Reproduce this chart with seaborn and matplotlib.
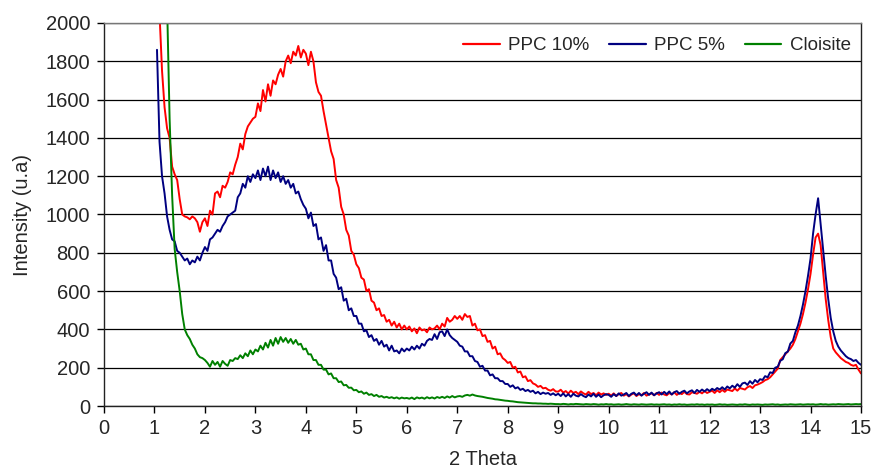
import numpy as np
import pandas as pd
import matplotlib
matplotlib.use("Agg")
import matplotlib.pyplot as plt
import seaborn as sns

nan = float("nan")

# 2 Theta sampling grid (1.00 .. 15.00, step 0.05)
two_theta = np.round(np.arange(1.0, 15.0001, 0.05), 2)

ppc10 = [
    nan, nan, 2050, 1750, 1560, 1450, 1400, 1250, 1210, 1180, 1080, 1000, 990, 985, 975, 990, 980, 960, 910, 960,
    980, 940, 1020, 1000, 1110, 1120, 1090, 1150, 1140, 1170, 1220, 1210, 1260, 1300, 1370, 1340, 1420, 1460, 1480, 1500,
    1510, 1580, 1540, 1650, 1590, 1680, 1620, 1700, 1680, 1730, 1760, 1720, 1800, 1830, 1790, 1850, 1830, 1880, 1820, 1860,
    1840, 1780, 1850, 1800, 1690, 1640, 1620, 1540, 1470, 1400, 1330, 1290, 1180, 1140, 1040, 1000, 920, 890, 810, 790,
    740, 720, 670, 660, 600, 610, 550, 540, 500, 510, 470, 475, 440, 450, 420, 440, 410, 430, 400, 420,
    400, 415, 390, 405, 380, 410, 395, 400, 385, 410, 400, 405, 420, 400, 430, 415, 460, 440, 450, 470,
    455, 470, 450, 480, 465, 470, 420, 430, 395, 400, 365, 370, 335, 340, 300, 310, 270, 275, 250, 240,
    225, 230, 200, 205, 175, 180, 150, 155, 130, 135, 118, 112, 100, 105, 92, 95, 85, 80, 88, 76,
    75, 85, 70, 78, 65, 80, 68, 74, 62, 76, 66, 60, 74, 62, 68, 56, 70, 60, 66, 58,
    64, 54, 66, 52, 62, 68, 54, 62, 50, 60, 66, 52, 62, 56, 68, 54, 62, 66, 56, 68,
    58, 70, 60, 56, 68, 60, 72, 58, 68, 62, 74, 62, 60, 72, 68, 64, 74, 66, 78, 68,
    74, 80, 68, 82, 72, 84, 74, 86, 82, 78, 92, 80, 94, 90, 86, 98, 104, 94, 108, 112,
    118, 125, 135, 140, 150, 165, 180, 195, 240, 255, 270, 285, 300, 320, 350, 390, 430, 480, 540, 610,
    690, 790, 880, 900, 840, 700, 560, 450, 360, 300, 280, 265, 250, 240, 230, 225, 215, 210, 215, 190,
    170,
]

ppc5 = [
    nan, 1860, 1380, 1200, 1110, 990, 920, 870, 860, 810, 800, 780, 760, 770, 740, 760, 750, 780, 760, 800,
    830, 810, 870, 880, 900, 920, 910, 940, 960, 990, 1000, 1010, 1020, 1090, 1110, 1160, 1140, 1200, 1170, 1210,
    1190, 1230, 1180, 1240, 1200, 1250, 1180, 1230, 1190, 1220, 1170, 1200, 1160, 1180, 1140, 1160, 1110, 1120, 1080, 1050,
    1030, 980, 1010, 940, 950, 870, 880, 810, 840, 760, 760, 690, 670, 610, 620, 550, 560, 500, 510, 470,
    470, 430, 430, 390, 395, 360, 370, 340, 350, 320, 340, 310, 320, 290, 315, 285, 290, 275, 300, 285,
    300, 290, 310, 295, 315, 300, 325, 315, 340, 350, 345, 375, 350, 385, 390, 365, 400, 370, 355, 345,
    335, 315, 310, 285, 285, 260, 260, 235, 230, 205, 210, 185, 185, 160, 165, 145, 145, 130, 130, 115,
    115, 100, 108, 92, 98, 84, 90, 78, 84, 74, 80, 66, 74, 62, 70, 64, 68, 58, 66, 56,
    64, 52, 66, 50, 62, 48, 64, 54, 50, 62, 52, 46, 60, 50, 64, 48, 60, 46, 56, 62,
    58, 48, 62, 52, 66, 54, 60, 68, 52, 64, 70, 56, 68, 54, 64, 72, 58, 70, 56, 66,
    72, 60, 74, 62, 76, 60, 72, 78, 64, 74, 80, 66, 76, 82, 68, 84, 74, 86, 76, 88,
    78, 90, 82, 94, 86, 98, 86, 102, 92, 106, 96, 114, 100, 118, 122, 110, 130, 116, 136, 124,
    140, 136, 156, 150, 176, 172, 200, 205, 236, 244, 276, 284, 326, 340, 385, 420, 470, 530, 600, 680,
    770, 900, 1000, 1085, 950, 820, 680, 560, 460, 390, 340, 310, 290, 275, 260, 250, 245, 235, 240, 225,
    215,
]

cloisite = [
    nan, nan, nan, nan, nan, 2100, 1500, 1100, 820, 700, 600, 480, 400, 370, 350, 320, 300, 270, 255, 250,
    240, 225, 205, 235, 215, 230, 205, 235, 220, 210, 240, 235, 250, 245, 265, 250, 275, 260, 290, 270,
    295, 285, 315, 295, 330, 305, 345, 315, 355, 325, 360, 335, 355, 330, 350, 325, 345, 320, 325, 295,
    300, 270, 270, 240, 240, 215, 215, 190, 190, 165, 170, 145, 145, 125, 128, 108, 110, 95, 96, 82,
    84, 72, 76, 64, 70, 58, 62, 52, 58, 48, 52, 44, 48, 42, 46, 40, 45, 38, 44, 40,
    42, 38, 44, 36, 45, 40, 44, 38, 46, 40, 45, 39, 47, 42, 48, 42, 50, 44, 52, 45,
    50, 52, 48, 55, 58, 54, 60, 55, 52, 50, 48, 45, 42, 40, 38, 35, 34, 32, 30, 28,
    27, 25, 24, 22, 20, 19, 18, 17, 16, 15, 14, 14, 13, 13, 12, 12, 11, 12, 11, 10,
    10, 9, 11, 10, 8, 10, 9, 11, 10, 9, 8, 10, 9, 8, 10, 9, 7, 9, 8, 10,
    8, 9, 7, 8, 9, 7, 8, 10, 8, 7, 9, 8, 7, 9, 8, 7, 8, 9, 7, 8,
    7, 8, 9, 7, 8, 6, 8, 7, 9, 7, 8, 6, 7, 8, 7, 9, 7, 8, 6, 8,
    7, 8, 6, 7, 9, 7, 8, 6, 7, 8, 7, 6, 8, 7, 9, 7, 6, 8, 7, 8,
    7, 6, 8, 7, 8, 9, 7, 8, 6, 7, 8, 7, 9, 8, 7, 8, 9, 7, 8, 9,
    8, 9, 7, 8, 10, 8, 9, 7, 8, 9, 8, 10, 9, 8, 9, 10, 8, 9, 10, 9,
    10,
]

series_names = ["PPC 10%", "PPC 5%", "Cloisite"]
colors = ["#FF0000", "#000080", "#008000"]
x_ticks = list(range(0, 16))
y_ticks = list(range(0, 2001, 200))

frames = []
for name, vals in zip(series_names, [ppc10, ppc5, cloisite]):
    frames.append(pd.DataFrame({"2 Theta": two_theta, "Intensity": vals, "Sample": name}))
df = pd.concat(frames, ignore_index=True).dropna()

sns.set_style("white")
plt.rcParams["font.family"] = ["Liberation Sans", "DejaVu Sans"]

fig = plt.figure(figsize=(8.72, 4.69), dpi=100)
ax = fig.add_axes([104 / 872, 1 - 406 / 469, (861 - 104) / 872, (406 - 23) / 469])

sns.lineplot(data=df, x="2 Theta", y="Intensity", hue="Sample",
             hue_order=series_names, palette=colors, estimator=None,
             sort=False, linewidth=1.4, ax=ax, legend=True)

ax.set_xlim(0, 15)
ax.set_ylim(0, 2000)
ax.set_xticks(x_ticks)
ax.set_yticks(y_ticks)
ax.yaxis.grid(True, color="black", linewidth=0.9)
ax.xaxis.grid(False)
ax.set_axisbelow(True)
for side in ["left", "bottom", "right", "top"]:
    ax.spines[side].set_visible(True)
    ax.spines[side].set_color("#222222")
    ax.spines[side].set_linewidth(1.0)
ax.spines["top"].set_color("#777777")
ax.tick_params(axis="both", which="major", direction="out", length=5, width=1,
               color="black", labelsize=14.5, bottom=True, left=True)
ax.tick_params(axis="y", pad=5)
ax.tick_params(axis="x", pad=4)
ax.set_xlabel("2 Theta", fontsize=14.5, labelpad=9)
ax.set_ylabel("Intensity (u.a)", fontsize=14.5, labelpad=10)

leg = ax.legend(loc="upper right", bbox_to_anchor=(1.0, 0.99), ncol=3,
                frameon=False, fontsize=13.5, handlelength=1.95,
                handletextpad=0.45, columnspacing=1.05, borderaxespad=0.15)
for line in leg.get_lines():
    line.set_linewidth(1.6)

fig.savefig("out.png", dpi=100)
